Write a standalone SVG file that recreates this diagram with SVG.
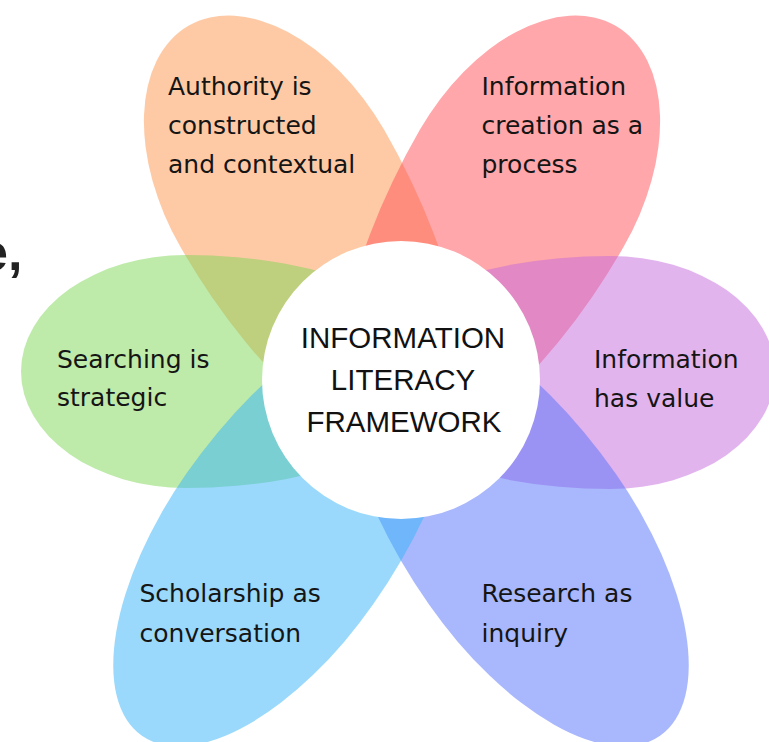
<svg xmlns="http://www.w3.org/2000/svg" width="769" height="742" viewBox="0 0 769 742">
<style>
.p{fill-opacity:0.5;stroke:none}
.lbl{font-family:"DejaVu Sans",sans-serif;font-size:25px;fill:#151515}
.ctr{font-family:"Liberation Sans",Arial,sans-serif;font-size:29.5px;fill:#111;text-anchor:middle}
</style>
<rect width="769" height="742" fill="#ffffff"/>
<text x="-21" y="270" font-family="Liberation Sans, Arial, sans-serif" font-weight="bold" font-size="52" fill="#222">e,</text>
<g id="petal-authority">
<path class="p" fill="#FD964B" transform="translate(282.4,188.6) rotate(-120)" d="M0,-117.5 A188,117.5 0 0 1 0,117.5 A300,117.5 0 0 1 0,-117.5 Z"/>
<text class="lbl" x="168" y="95">Authority is</text>
<text class="lbl" x="168" y="134">constructed</text>
<text class="lbl" x="168" y="173">and contextual</text>
</g>
<g id="petal-creation">
<path class="p" fill="#FF5055" transform="translate(521.6,188.6) rotate(-60)" d="M0,-117.5 A188,117.5 0 0 1 0,117.5 A300,117.5 0 0 1 0,-117.5 Z"/>
<text class="lbl" x="481.5" y="95">Information</text>
<text class="lbl" x="481.5" y="134">creation as a</text>
<text class="lbl" x="481.5" y="173">process</text>
</g>
<g id="petal-value">
<path class="p" fill="#C569DD" transform="translate(610,372.5)" d="M0,-116.5 A165,116.5 0 0 1 0,116.5 A260,116.5 0 0 1 0,-116.5 Z"/>
<text class="lbl" x="594" y="368">Information</text>
<text class="lbl" x="594" y="407">has value</text>
</g>
<g id="petal-research">
<path class="p" fill="#5371F9" transform="translate(522.4,539.2) rotate(55)" d="M0,-114 A240,114 0 0 1 0,114 A268,114 0 0 1 0,-114 Z"/>
<text class="lbl" x="481.5" y="602">Research as</text>
<text class="lbl" x="481.5" y="641.5">inquiry</text>
</g>
<g id="petal-searching">
<path class="p" fill="#7DD555" transform="translate(186,371.5) rotate(180)" d="M0,-116.5 A165,116.5 0 0 1 0,116.5 A260,116.5 0 0 1 0,-116.5 Z"/>
<text class="lbl" x="57" y="368">Searching is</text>
<text class="lbl" x="57" y="406">strategic</text>
</g>
<g id="petal-scholarship">
<path class="p" fill="#35B3F9" transform="translate(279.6,539.2) rotate(125)" d="M0,-114 A240,114 0 0 1 0,114 A268,114 0 0 1 0,-114 Z"/>
<text class="lbl" x="139.5" y="602">Scholarship as</text>
<text class="lbl" x="139.5" y="641.5">conversation</text>
</g>
<g id="connectors"></g>
<g id="center">
<circle cx="401" cy="380" r="139" fill="#ffffff"/>
<text class="ctr" x="403" y="348.3">INFORMATION</text>
<text class="ctr" x="403" y="389.5">LITERACY</text>
<text class="ctr" x="404" y="431.7">FRAMEWORK</text>
</g>
</svg>
